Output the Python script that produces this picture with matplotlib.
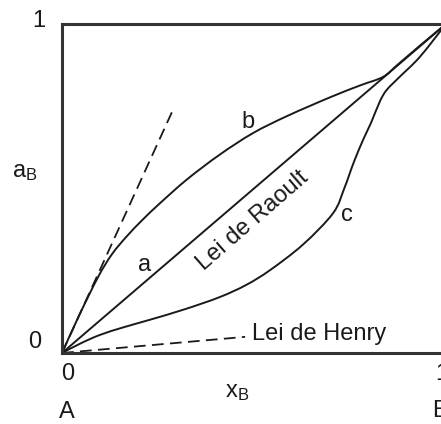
import numpy as np
import matplotlib
matplotlib.use('Agg')
import matplotlib.pyplot as plt
from matplotlib.path import Path
from matplotlib.patches import PathPatch

plt.rcParams['font.family'] = ['Liberation Sans', 'DejaVu Sans']
plt.rcParams['mathtext.fontset'] = 'custom'
plt.rcParams['mathtext.rm'] = 'Liberation Sans'
plt.rcParams['mathtext.it'] = 'Liberation Sans'

# mole fraction of B vs activity of B
raoult_x = [0.0, 1.0]
raoult_y = [0.0, 1.0]

# curve b: positive deviation
b_x = [0.0, 0.045, 0.094, 0.13, 0.169, 0.21, 0.255, 0.326, 0.411, 0.497,
       0.586, 0.698, 0.776, 0.836, 0.872, 0.93, 1.0]
b_y = [0.0, 0.115, 0.231, 0.30, 0.355, 0.405, 0.455, 0.528, 0.603, 0.668,
       0.72, 0.777, 0.813, 0.839, 0.874, 0.932, 1.0]

# curve c: negative deviation
c_x = [0.0, 0.05, 0.099, 0.16, 0.229, 0.32, 0.411, 0.48, 0.542, 0.628,
       0.706, 0.735, 0.76, 0.785, 0.805, 0.828, 0.846, 0.88, 0.932, 1.0]
c_y = [0.0, 0.03, 0.055, 0.078, 0.101, 0.133, 0.170, 0.207, 0.252, 0.33,
       0.425, 0.50, 0.58, 0.65, 0.70, 0.765, 0.80, 0.84, 0.90, 1.0]

# Henry's law tangents at infinite dilution
henry_b_x = [0.0, 0.289]
henry_b_y = [0.0, 0.739]
henry_c_x = [0.0, 0.477]
henry_c_y = [0.0, 0.049]


def smooth_path(xs, ys):
    # Catmull-Rom through the points, drawn as cubic Bezier segments
    p = np.column_stack([xs, ys])
    verts = [p[0]]
    codes = [Path.MOVETO]
    n = len(p)
    for i in range(n - 1):
        p0 = p[i - 1] if i > 0 else p[i]
        p1, p2 = p[i], p[i + 1]
        p3 = p[i + 2] if i + 2 < n else p[i + 1]
        verts += [p1 + (p2 - p0) / 6, p2 - (p3 - p1) / 6, p2]
        codes += [Path.CURVE4] * 3
    return Path(verts, codes)


fig = plt.figure(figsize=(4.41, 4.24), dpi=100)
ax = fig.add_axes([0.1406, 0.1675, 0.8707, 0.776])

lw = 1.4
ax.plot(raoult_x, raoult_y, color='#1a1a1a', lw=lw)
for xs, ys in [(b_x, b_y), (c_x, c_y)]:
    ax.add_patch(PathPatch(smooth_path(xs, ys), facecolor='none',
                           edgecolor='#1a1a1a', lw=lw))
ax.plot(henry_b_x, henry_b_y, color='#1a1a1a', lw=1.3, ls=(0, (6.5, 3.5)))
ax.plot(henry_c_x, henry_c_y, color='#1a1a1a', lw=1.3, ls=(0, (6.5, 3.5)))

ax.set_xlim(0, 1)
ax.set_ylim(0, 1)
ax.set_xticks([])
ax.set_yticks([])
for side in ['left', 'bottom', 'top', 'right']:
    ax.spines[side].set_linewidth(2.2)
    ax.spines[side].set_color('#333333')

fs = 17
kw = dict(fontsize=fs, color='#1a1a1a', clip_on=False)
ax.text(-0.06, 1.01, '1', ha='center', va='center', **kw)
ax.text(-0.07, 0.033, '0', ha='center', va='center', **kw)
ax.text(0.016, -0.064, '0', ha='center', va='center', **kw)
ax.text(0.99, -0.064, '1', ha='center', va='center', **kw)
ax.text(0.013, -0.18, 'A', ha='center', va='center', **kw)
ax.text(0.985, -0.175, 'B', ha='center', va='center', **kw)
ax.text(0.455, -0.12, r'$\mathrm{x_B}$', ha='center', va='center', **kw)
ax.text(-0.096, 0.55, r'$\mathrm{a_B}$', ha='center', va='center', **kw)

ax.text(0.216, 0.267, 'a', ha='center', va='center', **kw)
ax.text(0.484, 0.702, 'b', ha='center', va='center', **kw)
ax.text(0.742, 0.419, 'c', ha='center', va='center', **kw)
ax.text(0.497, 0.402, 'Lei de Raoult', ha='center', va='center',
        rotation=41, rotation_mode='anchor', **kw)
ax.text(0.495, 0.04, 'Lei de Henry', ha='left', va='baseline', **kw)

fig.savefig('out.png', dpi=100)
